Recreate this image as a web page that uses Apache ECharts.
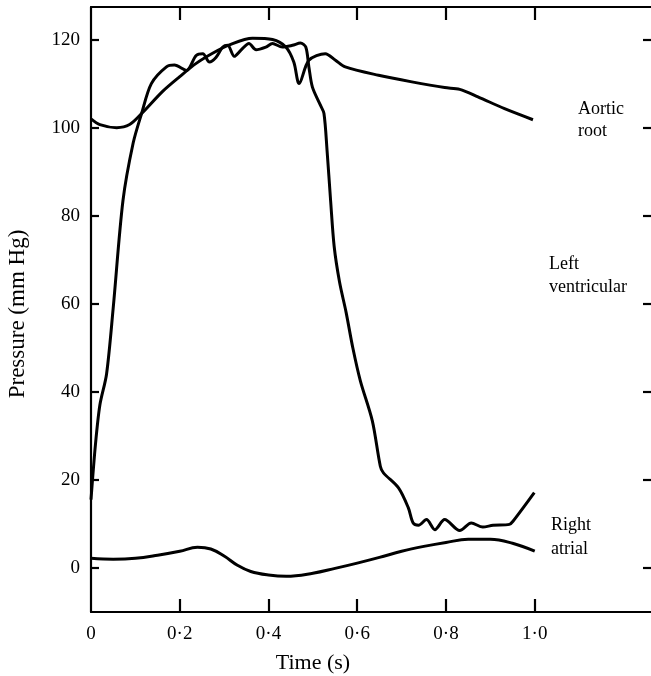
<!DOCTYPE html>
<html>
<head>
<meta charset="utf-8">
<script src="https://cdn.jsdelivr.net/npm/echarts@6/dist/echarts.min.js"></script>
<style>html,body{margin:0;padding:0;background:#fff}#c{width:651px;height:676px}</style>
</head>
<body>
<div id="c"></div>
<script>
// Aortic root pressure
var aorticT = [0, 0.02, 0.058, 0.087, 0.114, 0.162, 0.2, 0.237, 0.274, 0.312, 0.364, 0.409, 0.439, 0.457, 0.469, 0.491, 0.528, 0.551, 0.573, 0.648, 0.723, 0.797, 0.831, 0.872, 0.932, 0.996];
var aorticP = [102.0, 100.7, 100.0, 100.7, 103.2, 108.3, 111.6, 114.6, 116.9, 118.8, 120.3, 120.0, 118.3, 114.9, 110.0, 115.3, 116.8, 115.3, 113.8, 111.9, 110.4, 109.1, 108.7, 107.0, 104.3, 101.8];
// Left ventricular pressure
var lvT = [0, 0.01, 0.02, 0.035, 0.05, 0.072, 0.095, 0.114, 0.136, 0.17, 0.188, 0.215, 0.237, 0.252, 0.267, 0.282, 0.297, 0.308, 0.323, 0.338, 0.356, 0.372, 0.394, 0.409, 0.431, 0.454, 0.472, 0.484, 0.491, 0.499, 0.517, 0.525, 0.532, 0.54, 0.548, 0.56, 0.575, 0.59, 0.607, 0.634, 0.652, 0.659, 0.693, 0.715, 0.726, 0.738, 0.756, 0.775, 0.797, 0.831, 0.857, 0.883, 0.906, 0.943, 0.951, 0.999];
var lvP = [15.5, 28, 37, 44, 59, 83.4, 96.5, 103.2, 110, 113.8, 114.2, 113, 116.4, 116.8, 114.9, 116, 118.3, 118.7, 116.2, 117.6, 119.1, 117.7, 118.3, 119.1, 118.3, 118.7, 119.2, 118.3, 113.8, 109.2, 105.1, 103.2, 94.8, 83.4, 73, 65, 58, 50, 42.5, 33.4, 23.1, 21.6, 18.2, 13.7, 10.2, 9.7, 11.0, 8.7, 11.0, 8.5, 10.2, 9.3, 9.7, 9.9, 10.6, 17.1];
// Right atrial pressure
var raT = [0, 0.05, 0.1, 0.15, 0.2, 0.24, 0.27, 0.3, 0.33, 0.36, 0.4, 0.44, 0.5, 0.55, 0.6, 0.65, 0.7, 0.75, 0.8, 0.85, 0.9, 0.95, 1.0];
var raP = [2.2, 2.0, 2.2, 2.9, 3.8, 4.7, 4.3, 2.7, 0.6, -0.8, -1.6, -1.9, -1.2, -0.1, 1.1, 2.4, 3.8, 4.9, 5.8, 6.5, 6.5, 5.6, 3.8];

var xLabelVals = [0, 0.2, 0.4, 0.6, 0.8, 1.0];
var xTickVals = [0.2, 0.4, 0.6, 0.8, 1.0];
var yTickVals = [0, 20, 40, 60, 80, 100, 120];

function pairs(t, p) { return t.map(function (v, i) { return [v, p[i]]; }); }

var FONT = 'Liberation Serif';
var chart = echarts.init(document.getElementById('c'), null, { renderer: 'canvas' });
var lineStyle = { color: '#000', width: 3 };
var axisLineStyle = { color: '#000', width: 2.2 };

chart.setOption({
  animation: false,
  backgroundColor: '#fff',
  grid: { left: 91, top: 7, right: -3, bottom: 64 },
  xAxis: [{
    type: 'value', min: 0, max: 1.262, position: 'bottom',
    axisLine: { show: true, onZero: false, lineStyle: axisLineStyle },
    axisTick: { show: true, inside: true, length: 13, customValues: xTickVals, lineStyle: axisLineStyle },
    axisLabel: { customValues: xLabelVals, margin: 13, color: '#000', fontFamily: FONT, fontSize: 19,
      formatter: function (v) { return v === 0 ? '0' : v.toFixed(1).replace('.', '\u00b7'); } },
    splitLine: { show: false }
  }, {
    type: 'value', min: 0, max: 1.262, position: 'top',
    axisLine: { show: true, onZero: false, lineStyle: axisLineStyle },
    axisTick: { show: true, inside: true, length: 13, customValues: xTickVals, lineStyle: axisLineStyle },
    axisLabel: { show: false }, splitLine: { show: false }
  }],
  yAxis: [{
    type: 'value', min: -10, max: 127.4, position: 'left',
    axisLine: { show: true, onZero: false, lineStyle: axisLineStyle },
    axisTick: { show: true, inside: true, length: 8, customValues: yTickVals, lineStyle: axisLineStyle },
    axisLabel: { customValues: yTickVals, margin: 11, color: '#000', fontFamily: FONT, fontSize: 19 },
    splitLine: { show: false }
  }, {
    type: 'value', min: -10, max: 127.4, position: 'right',
    axisLine: { show: false, onZero: false },
    axisTick: { show: true, inside: true, length: 8, customValues: yTickVals, lineStyle: axisLineStyle },
    axisLabel: { show: false }, splitLine: { show: false }
  }],
  series: [
    { type: 'line', name: 'Aortic root', data: pairs(aorticT, aorticP), showSymbol: false, smooth: 0.3, lineStyle: lineStyle, z: 3 },
    { type: 'line', name: 'Left ventricular', data: pairs(lvT, lvP), showSymbol: false, smooth: 0.3, lineStyle: lineStyle, z: 3 },
    { type: 'line', name: 'Right atrial', data: pairs(raT, raP), showSymbol: false, smooth: 0.4, lineStyle: lineStyle, z: 3 }
  ],
  graphic: [
    { type: 'text', x: 313, y: 663, style: { text: 'Time (s)', font: '22px "Liberation Serif"', fill: '#000', align: 'center', verticalAlign: 'middle' } },
    { type: 'text', x: 18, y: 314, rotation: Math.PI / 2, style: { text: 'Pressure (mm Hg)', font: '23px "Liberation Serif"', fill: '#000', align: 'center', verticalAlign: 'middle' } },
    { type: 'text', left: 578, top: 98, style: { text: 'Aortic\nroot', font: '18px "Liberation Serif"', fill: '#000', lineHeight: 22 } },
    { type: 'text', left: 549, top: 253, style: { text: 'Left\nventricular', font: '18px "Liberation Serif"', fill: '#000', lineHeight: 23 } },
    { type: 'text', left: 551, top: 513, style: { text: 'Right\natrial', font: '18px "Liberation Serif"', fill: '#000', lineHeight: 24 } }
  ]
});
</script>
</body>
</html>
